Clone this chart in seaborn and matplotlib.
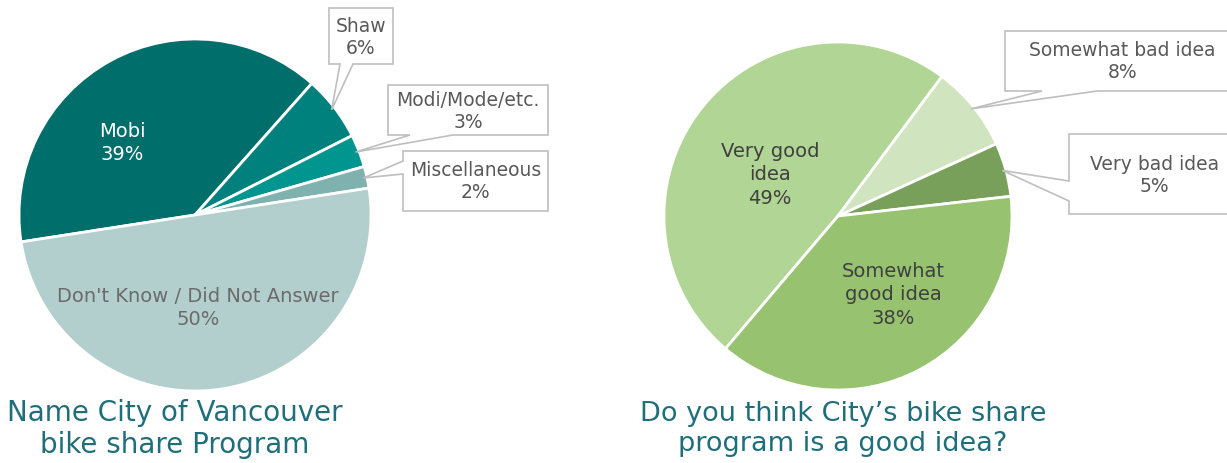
import matplotlib
matplotlib.use("Agg")
import matplotlib.pyplot as plt
from matplotlib.patches import Polygon
import numpy as np
import seaborn as sns

# --- data -------------------------------------------------------------
bike_labels = ["Mobi", "Shaw", "Modi/Mode/etc.", "Miscellaneous",
               "Don't Know / Did Not Answer"]
bike_pct = [39, 6, 3, 2, 50]
bike_colors = ["#006E6B", "#00817E", "#00968F", "#7FB2AF", "#B3CFCD"]

idea_labels = ["Very good\nidea", "Somewhat bad idea", "Very bad idea",
               "Somewhat\ngood idea"]
idea_pct = [49, 8, 5, 38]
idea_colors = ["#B1D595", "#D0E5BF", "#78A05A", "#97C270"]

bike_title = "Name City of Vancouver\nbike share Program"
idea_title = "Do you think City\u2019s bike share\nprogram is a good idea?"

# --- layout (pixels, y measured from the top) --------------------------
W, H = 1227, 464
GREY_EDGE = "#BFBFBF"
TEAL = "#1F6F7B"


def px(x, y):
    return (x, H - y)


sns.set_theme(style="white")
plt.rcParams["font.family"] = ["DejaVu Sans"]

fig = plt.figure(figsize=(W / 100, H / 100), dpi=100)
ax = fig.add_axes([0, 0, 1, 1])


def draw_pie(values, colors, center, radius, start):
    wedges, _ = ax.pie(values, colors=colors, center=px(*center), radius=radius,
                       startangle=start, counterclock=False, frame=False,
                       wedgeprops=dict(edgecolor="white", linewidth=2))
    return wedges


def tip_of(w):
    # pointer tip sits on the rim at the slice's mid angle
    mid = np.deg2rad((w.theta1 + w.theta2) / 2)
    cx, cy = w.center
    return (cx + w.r * 0.98 * np.cos(mid), cy + w.r * 0.98 * np.sin(mid))


def callout(w, text, box, base, side):
    x0, y0, x1, y1 = box
    tip = tip_of(w)
    tl, tr, br, bl = px(x0, y0), px(x1, y0), px(x1, y1), px(x0, y1)
    b1, b2 = px(*base[0]), px(*base[1])
    if side == "bottom":
        verts = [tl, tr, br, b2, tip, b1, bl]
    else:
        verts = [tl, tr, br, bl, b2, tip, b1]
    ax.add_patch(Polygon(verts, closed=True, facecolor="white",
                         edgecolor=GREY_EDGE, linewidth=1.2, zorder=3))
    ax.text(*px((x0 + x1) / 2, (y0 + y1) / 2), text, ha="center", va="center",
            fontsize=13.5, color="#595959", linespacing=1.2, zorder=4)


# left chart
bw = draw_pie(bike_pct, bike_colors, (195, 216), 176, 188.8)
ax.text(*px(122, 143), f"{bike_labels[0]}\n{bike_pct[0]}%", ha="center",
        va="center", fontsize=14, color="white", linespacing=1.25)
ax.text(*px(198, 308), f"{bike_labels[4]}\n{bike_pct[4]}%", ha="center",
        va="center", fontsize=14, color="#6B6B6B", linespacing=1.25)
bike_boxes = [(329, 9, 393, 65), (388, 86, 548, 136), (403, 152, 548, 212)]
bike_bases = [[(340, 65), (353, 65)], [(410, 136), (453, 136)],
              [(403, 162), (403, 175)]]
bike_sides = ["bottom", "bottom", "left"]
for i in range(3):
    callout(bw[i + 1], f"{bike_labels[i + 1]}\n{bike_pct[i + 1]}%",
            bike_boxes[i], bike_bases[i], bike_sides[i])

# right chart
iw = draw_pie(idea_pct, idea_colors, (838, 217), 174, 229.7)
ax.text(*px(770, 175), f"{idea_labels[0]}\n{idea_pct[0]}%", ha="center",
        va="center", fontsize=14, color="#404040", linespacing=1.3)
ax.text(*px(893, 295), f"{idea_labels[3]}\n{idea_pct[3]}%", ha="center",
        va="center", fontsize=14, color="#404040", linespacing=1.3)
idea_boxes = [(1005, 32, 1240, 92), (1069, 135, 1240, 215)]
idea_bases = [[(1042, 92), (1097, 92)], [(1069, 182), (1069, 202)]]
idea_sides = ["bottom", "left"]
for i in range(2):
    callout(iw[i + 1], f"{idea_labels[i + 1]}\n{idea_pct[i + 1]}%",
            idea_boxes[i], idea_bases[i], idea_sides[i])

# titles
ax.text(*px(175, 429), bike_title, ha="center", va="center", fontsize=20,
        color=TEAL, linespacing=1.18)
ax.text(*px(843, 429), idea_title, ha="center", va="center", fontsize=19.5,
        color=TEAL, linespacing=1.18)

ax.set_xlim(0, W)
ax.set_ylim(0, H)
ax.set_aspect("auto")
ax.axis("off")

fig.savefig("out.png", dpi=100, facecolor="white")
